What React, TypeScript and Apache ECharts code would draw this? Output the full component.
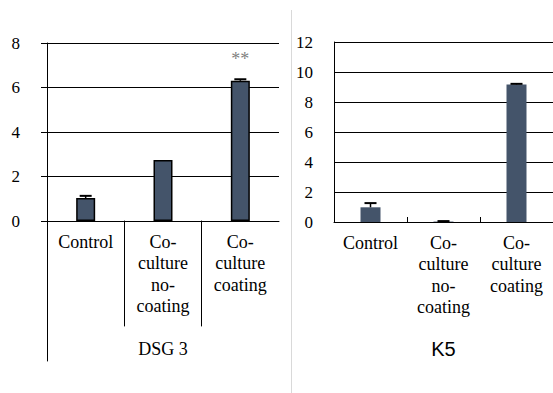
import React, { useEffect, useRef } from 'react';
import * as echarts from 'echarts';

// ---- data ----
const categories = ['Control', 'Co-culture no-coating', 'Co-culture coating'];
const categoryLines = [['Control'], ['Co-', 'culture', 'no-', 'coating'], ['Co-', 'culture', 'coating']];
const dsg3Values = [1.03, 2.74, 6.3];
const dsg3Errors = [0.1, 0.0, 0.07];
const dsg3Marks = ['', '', '**'];
const dsg3Ticks = [0, 2, 4, 6, 8];
const k5Values = [0.98, 0.03, 9.17];
const k5Errors = [0.28, 0.03, 0.04];
const k5Ticks = [0, 2, 4, 6, 8, 10, 12];
const panelNames = ['DSG 3', 'K5'];

// ---- layout ----
const W = 553;
const H = 393;
const GL = { left: 47, top: 43, width: 232, height: 178 };
const GR = { left: 334, top: 42, width: 228, height: 180 };
const BAR = '#44546A';
const SERIF = 'Times New Roman, Liberation Serif, serif';
const SANS = 'Arial, Liberation Sans, sans-serif';

const labelFormatter = (value: string) => {
  const i = categories.indexOf(value);
  return (categoryLines[i] || [value]).join('\n');
};

const errRender = (params: any, api: any) => {
  const v = api.value(1);
  const e = api.value(2);
  if (!(e > 0)) return null;
  const i = api.value(0);
  const base = api.coord([i, v]);
  const top = api.coord([i, v + e]);
  const half = 6;
  return {
    type: 'group',
    children: [
      { type: 'line', shape: { x1: base[0], y1: base[1], x2: top[0], y2: top[1] }, style: { stroke: '#000', lineWidth: 1.5 } },
      { type: 'line', shape: { x1: top[0] - half, y1: top[1], x2: top[0] + half, y2: top[1] }, style: { stroke: '#000', lineWidth: 2 } },
    ],
  };
};

export default function App() {
  const ref = useRef<HTMLDivElement>(null);
  useEffect(() => {
    if (!ref.current) return;
    const chart = echarts.init(ref.current, undefined, { renderer: 'svg' });
    const catW = GL.width / categories.length;
    const xLabel = () => ({
      formatter: labelFormatter,
      fontFamily: SERIF,
      fontSize: 18,
      lineHeight: 21.5,
      color: '#000',
      margin: 10,
      interval: 0,
    });
    const yLabel = (margin: number) => ({ fontFamily: SERIF, fontSize: 17, color: '#000', margin });
    const helperY = (gridIndex: number, position: string) => ({
      type: 'value',
      gridIndex,
      position,
      min: 0,
      max: 1,
      axisLine: { show: true, lineStyle: { color: '#000', width: 1 } },
      axisTick: { show: false },
      axisLabel: { show: false },
      splitLine: { show: false },
    });
    const option: any = {
      animation: false,
      textStyle: { fontFamily: SERIF },
      grid: [
        { ...GL },
        { ...GR },
        { left: GL.left, top: GL.top + GL.height, width: catW, height: 140 },
        { left: GL.left + catW, top: GL.top + GL.height, width: catW, height: 105 },
      ],
      xAxis: [
        {
          type: 'category',
          gridIndex: 0,
          data: categories,
          axisLine: { show: true, lineStyle: { color: '#000', width: 1 } },
          axisTick: { show: false },
          axisLabel: xLabel(),
          name: panelNames[0],
          nameLocation: 'middle',
          nameGap: 119,
          nameTextStyle: { fontFamily: SERIF, fontSize: 18, color: '#000' },
        },
        {
          type: 'category',
          gridIndex: 1,
          data: categories,
          axisLine: { show: true, lineStyle: { color: '#000', width: 1 } },
          axisTick: { show: true, inside: true, length: 5, lineStyle: { color: '#000' } },
          axisLabel: xLabel(),
          name: panelNames[1],
          nameLocation: 'middle',
          nameGap: 117,
          nameTextStyle: { fontFamily: SANS, fontSize: 20, color: '#000' },
        },
        { type: 'value', gridIndex: 2, show: false },
        { type: 'value', gridIndex: 3, show: false },
      ],
      yAxis: [
        {
          type: 'value',
          gridIndex: 0,
          min: dsg3Ticks[0],
          max: dsg3Ticks[dsg3Ticks.length - 1],
          interval: dsg3Ticks[1] - dsg3Ticks[0],
          axisLine: { show: true, lineStyle: { color: '#000', width: 1 } },
          axisTick: { show: true, length: 6, lineStyle: { color: '#000' } },
          axisLabel: yLabel(27),
          splitLine: { show: true, lineStyle: { color: '#000', width: 1 } },
        },
        {
          type: 'value',
          gridIndex: 1,
          min: k5Ticks[0],
          max: k5Ticks[k5Ticks.length - 1],
          interval: k5Ticks[1] - k5Ticks[0],
          axisLine: { show: true, lineStyle: { color: '#000', width: 1 } },
          axisTick: { show: false },
          axisLabel: yLabel(21),
          splitLine: { show: true, lineStyle: { color: '#000', width: 1 } },
        },
        helperY(2, 'left'),
        helperY(3, 'left'),
        helperY(3, 'right'),
      ],
      graphic: [
        {
          type: 'line',
          shape: { x1: 291.5, y1: 10, x2: 291.5, y2: H },
          style: { stroke: '#d9d9d9', lineWidth: 1 },
        },
      ],
      series: [
        {
          type: 'bar',
          xAxisIndex: 0,
          yAxisIndex: 0,
          barWidth: 19,
          itemStyle: { color: BAR, borderColor: '#000', borderWidth: 1.5 },
          data: dsg3Values.map((v, i) => ({
            value: v,
            label: {
              show: !!dsg3Marks[i],
              position: 'top',
              distance: 13,
              formatter: dsg3Marks[i],
              fontFamily: SERIF,
              fontSize: 18,
              color: '#7f7f7f',
            },
          })),
        },
        {
          type: 'custom',
          xAxisIndex: 0,
          yAxisIndex: 0,
          renderItem: errRender,
          encode: { x: 0, y: 1 },
          data: dsg3Values.map((v, i) => [i, v, dsg3Errors[i]]),
          z: 5,
        },
        {
          type: 'bar',
          xAxisIndex: 1,
          yAxisIndex: 1,
          barWidth: 20,
          itemStyle: { color: BAR },
          data: k5Values,
        },
        {
          type: 'custom',
          xAxisIndex: 1,
          yAxisIndex: 1,
          renderItem: errRender,
          encode: { x: 0, y: 1 },
          data: k5Values.map((v, i) => [i, v, k5Errors[i]]),
          z: 5,
        },
      ],
    };
    chart.setOption(option);
    return () => chart.dispose();
  }, []);
  return (
    <div
      ref={ref}
      style={{ position: 'fixed', left: 0, top: 0, width: W, height: H, background: '#fff' }}
    />
  );
}
